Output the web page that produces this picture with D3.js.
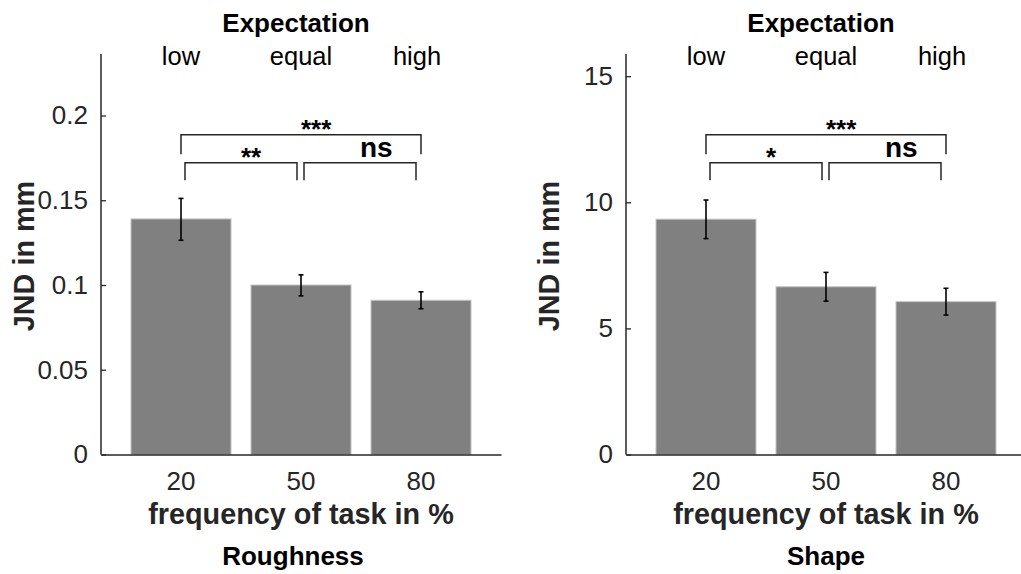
<!DOCTYPE html>
<html>
<head>
<meta charset="utf-8">
<script src="https://cdn.jsdelivr.net/npm/d3@7"></script>
<style>
  body { margin: 0; background: #fff; }
  text { font-family: "Liberation Sans", Arial, sans-serif; }
</style>
</head>
<body>
<script>
// categories on the x axis and the expectation labels over them
var categories = ['20', '50', '80'];
var expectation = ['low', 'equal', 'high'];

// roughness: mean JND and error bar ends (mm)
var roughMean = [0.139, 0.100, 0.091];
var roughLo = [0.1264, 0.0936, 0.086];
var roughHi = [0.1511, 0.106, 0.096];
var roughTicks = [0, 0.05, 0.1, 0.15, 0.2];
var roughStars = ['***', '**', 'ns'];

// shape: mean JND and error bar ends (mm)
var shapeMean = [9.33, 6.65, 6.06];
var shapeLo = [8.56, 6.08, 5.53];
var shapeHi = [10.09, 7.22, 6.59];
var shapeTicks = [0, 5, 10, 15];
var shapeStars = ['***', '*', 'ns'];

var width = 1021, height = 574;
var svg = d3.select('body').append('svg')
    .attr('width', width)
    .attr('height', height);

// plot area top / bottom in px
var plotTop = 54, plotBottom = 454.5;

function drawPanel(left, ymax, means, lo, hi, ticks, stars, name, nameDx) {
    var x = d3.scaleBand().domain(categories)
        .range([left, left + 400])
        .paddingInner(1 / 6).paddingOuter(0.25);
    var y = d3.scaleLinear().domain([0, ymax]).range([plotBottom, plotTop]);
    var g = svg.append('g');

    // bars
    g.selectAll('rect.bar').data(means).enter().append('rect')
        .attr('x', function(d, i) { return x(categories[i]); })
        .attr('y', function(d) { return y(d); })
        .attr('width', x.bandwidth())
        .attr('height', function(d) { return y(0) - y(d); })
        .attr('fill', '#808080')
        .attr('stroke', '#c4c4c4')
        .attr('stroke-width', 1);

    // error bars
    var cx = function(i) { return x(categories[i]) + x.bandwidth() / 2; };
    var eb = g.selectAll('g.err').data(means).enter().append('g');
    eb.append('line')
        .attr('x1', function(d, i) { return cx(i); })
        .attr('x2', function(d, i) { return cx(i); })
        .attr('y1', function(d, i) { return y(lo[i]); })
        .attr('y2', function(d, i) { return y(hi[i]); });
    eb.append('line')
        .attr('x1', function(d, i) { return cx(i) - 2.5; })
        .attr('x2', function(d, i) { return cx(i) + 2.5; })
        .attr('y1', function(d, i) { return y(lo[i]); })
        .attr('y2', function(d, i) { return y(lo[i]); });
    eb.append('line')
        .attr('x1', function(d, i) { return cx(i) - 2.5; })
        .attr('x2', function(d, i) { return cx(i) + 2.5; })
        .attr('y1', function(d, i) { return y(hi[i]); })
        .attr('y2', function(d, i) { return y(hi[i]); });
    eb.selectAll('line').attr('stroke', '#000').attr('stroke-width', 1.6);

    // axes
    var yAxis = d3.axisLeft(y).tickValues(ticks)
        .tickSizeInner(-5).tickSizeOuter(0).tickPadding(13)
        .tickFormat(function(d) { return String(d); });
    var ya = g.append('g').attr('transform', 'translate(' + left + ',0)').call(yAxis);
    var xAxis = d3.axisBottom(x).tickSize(0).tickPadding(17);
    var xa = g.append('g').attr('transform', 'translate(0,' + plotBottom + ')').call(xAxis);
    [ya, xa].forEach(function(a) {
        a.attr('font-family', null).attr('font-size', null);
        a.select('.domain').attr('stroke', '#262626').attr('stroke-width', 1.5);
        a.selectAll('.tick line').attr('stroke', '#262626').attr('stroke-width', 1.3);
        a.selectAll('.tick text').attr('fill', '#262626')
            .style('font-size', '26px');
    });
    ya.select('.domain').attr('d', 'M0,' + plotTop + 'V' + plotBottom);

    // significance brackets: [row, from, to, dx1, dx2]
    var brackets = [[0, 0, 2, 0, 0], [1, 0, 1, 4, -4], [1, 1, 2, 3, -5]];
    brackets.forEach(function(b, k) {
        var yh = b[0] === 0 ? plotTop + 80.7 : plotTop + 108.7;
        var yl = b[0] === 0 ? plotTop + 100.3 : plotTop + 126.3;
        var x1 = cx(b[1]) + b[3], x2 = cx(b[2]) + b[4];
        g.append('path')
            .attr('d', 'M' + x1 + ',' + yl + 'V' + yh + 'H' + x2 + 'V' + yl)
            .attr('fill', 'none').attr('stroke', '#262626').attr('stroke-width', 1.5);
        var lbl = stars[k];
        var isNs = lbl === 'ns';
        var by = isNs ? plotTop + 103 : (b[0] === 0 ? plotTop + 84 : plotTop + 111.5);
        g.append('text')
            .attr('x', (x1 + x2) / 2)
            .attr('y', by)
            .attr('text-anchor', 'start')
            .style('font-size', isNs ? '28px' : '26px').style('font-weight', 'bold')
            .attr('fill', '#000')
            .text(lbl);
    });

    // expectation labels on top
    g.selectAll('text.exp').data(expectation).enter().append('text')
        .attr('x', function(d, i) { return cx(i) - (i === 2 ? 4 : 0); })
        .attr('y', 65)
        .attr('text-anchor', 'middle')
        .style('font-size', '25.5px')
        .attr('fill', '#000')
        .text(function(d) { return d; });
    g.append('text')
        .attr('x', left + 195).attr('y', 32)
        .attr('text-anchor', 'middle')
        .style('font-size', '26px').style('font-weight', 'bold')
        .text('Expectation');

    // axis labels
    g.append('text')
        .attr('x', left + 200).attr('y', 524)
        .attr('text-anchor', 'middle')
        .style('font-size', '28.8px').style('font-weight', 'bold')
        .attr('fill', '#262626')
        .text('frequency of task in %');
    g.append('text')
        .attr('transform', 'translate(' + (left - 67) + ',256) rotate(-90)')
        .attr('text-anchor', 'middle')
        .style('font-size', '28.8px').style('font-weight', 'bold')
        .attr('fill', '#262626')
        .text('JND in mm');
    g.append('text')
        .attr('x', left + 200 + nameDx).attr('y', 565)
        .attr('text-anchor', 'middle')
        .style('font-size', '26px').style('font-weight', 'bold')
        .text(name);
}

drawPanel(101, 0.2363, roughMean, roughLo, roughHi, roughTicks, roughStars, 'Roughness', -8);
drawPanel(626, 15.88, shapeMean, shapeLo, shapeHi, shapeTicks, shapeStars, 'Shape', 0);
</script>
</body>
</html>
